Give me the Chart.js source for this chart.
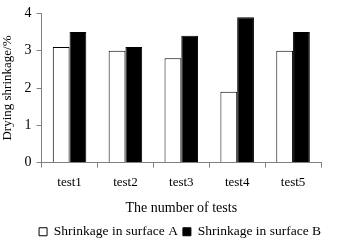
<!DOCTYPE html>
<html><head><meta charset="utf-8">
<script src="https://cdn.jsdelivr.net/npm/chart.js@4/dist/chart.umd.min.js"></script>
<style>html,body{margin:0;padding:0;background:#fff}#wrap{width:337px;height:246px}</style>
</head><body><div id="wrap"><canvas id="c" width="337" height="246"></canvas></div>
<script>
const categories = ['test1','test2','test3','test4','test5'];
const surfaceA = [3.1, 3.0, 2.8, 1.9, 3.0];
const surfaceB = [3.5, 3.1, 3.4, 3.9, 3.5];
const yTicks = [0, 1, 2, 3, 4];
const FONT = {family: "Liberation Serif", size: 13};
const legendShift = {
  id: 'legendShift',
  afterLayout(chart) {
    const l = chart.legend;
    if (l) { const pad = l.options.labels.padding; l.left += pad; l.right += pad; }
  }
};
new Chart(document.getElementById('c'), {
  type: 'bar',
  data: {
    labels: categories,
    datasets: [
      {label: 'Shrinkage in surface A', data: surfaceA, backgroundColor: '#fff', borderColor: '#000', borderWidth: 1, categoryPercentage: 0.6, barPercentage: 1},
      {label: 'Shrinkage in surface B', data: surfaceB, backgroundColor: '#000', borderColor: '#000', borderWidth: 1, categoryPercentage: 0.6, barPercentage: 1}
    ]
  },
  plugins: [legendShift],
  options: {
    responsive: false, animation: false,
    layout: {padding: {left: 0, right: 16, top: 6, bottom: 0}},
    plugins: {
      legend: {position: 'bottom', align: 'end', maxHeight: 26, labels: {color: '#000', font: {family: "Liberation Serif", size: 13.5}, boxWidth: 8, boxHeight: 8, padding: 5, useBorderRadius: false}},
      tooltip: {enabled: false}
    },
    scales: {
      x: {
        grid: {drawOnChartArea: false, drawTicks: true, tickLength: 5, color: '#808080', offset: true},
        border: {display: true, color: '#808080'},
        ticks: {color: '#000', font: FONT, padding: 7},
        title: {display: true, text: 'The number of tests', color: '#000', font: {family: "Liberation Serif", size: 14}, padding: {top: 3, bottom: 3}}
      },
      y: {
        min: 0, max: 4,
        afterBuildTicks: s => { s.ticks = yTicks.map(v => ({value: v})); },
        grid: {drawOnChartArea: false, drawTicks: true, tickLength: 5, color: '#808080'},
        border: {display: true, color: '#808080'},
        ticks: {color: '#000', font: {family: "Liberation Serif", size: 14}, padding: 5},
        title: {display: true, text: 'Drying shrinkage/%', color: '#000', font: FONT, padding: {top: 0, bottom: 4}}
      }
    }
  }
});
</script></body></html>
